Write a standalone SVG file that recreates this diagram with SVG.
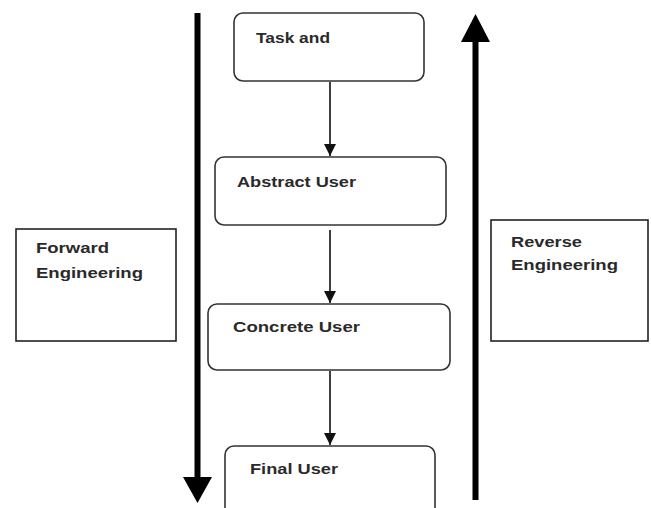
<svg xmlns="http://www.w3.org/2000/svg" width="651" height="508" viewBox="0 0 651 508">
<style>
.node{fill:#fff;stroke:#333;stroke-width:1.6}
.box{fill:#fff;stroke:#222;stroke-width:1.6}
.t{font-family:"Liberation Sans",Arial,sans-serif;font-size:15px;font-weight:bold;fill:#2a2a2a}
.con{stroke:#111;stroke-width:1.6;fill:none}
.big{stroke:#000;stroke-width:6;fill:none}
</style>
<defs>
<marker id="ah" markerUnits="userSpaceOnUse" markerWidth="14" markerHeight="14" refX="12" refY="6" orient="auto">
<path d="M0,0 L12,6 L0,12 Z" fill="#111"/>
</marker>
</defs>
<rect width="651" height="508" fill="#fff"/>
<g id="big-arrows">
<line class="big" x1="197.5" y1="13" x2="197.5" y2="480"/>
<path d="M183,477 L212,477 L197.5,503 Z" fill="#000"/>
<line class="big" x1="475.5" y1="500" x2="475.5" y2="38"/>
<path d="M461,42 L490,42 L475.5,14 Z" fill="#000"/>
</g>
<g id="connectors">
<line class="con" x1="330" y1="82" x2="330" y2="156" marker-end="url(#ah)"/>
<line class="con" x1="330" y1="230" x2="330" y2="303" marker-end="url(#ah)"/>
<line class="con" x1="330" y1="371" x2="330" y2="445" marker-end="url(#ah)"/>
</g>
<g id="task">
<rect class="node" x="234" y="13" width="190" height="68" rx="9"/>
<text class="t" x="256" y="43" textLength="74" lengthAdjust="spacingAndGlyphs">Task and</text>
</g>
<g id="abstract">
<rect class="node" x="215" y="157" width="231" height="68" rx="9"/>
<text class="t" x="237" y="187" textLength="119" lengthAdjust="spacingAndGlyphs">Abstract User</text>
</g>
<g id="concrete">
<rect class="node" x="208" y="304" width="242" height="66" rx="9"/>
<text class="t" x="233" y="332" textLength="127" lengthAdjust="spacingAndGlyphs">Concrete User</text>
</g>
<g id="final">
<rect class="node" x="225" y="446" width="210" height="80" rx="9"/>
<text class="t" x="250" y="474" textLength="88" lengthAdjust="spacingAndGlyphs">Final User</text>
</g>
<g id="forward">
<rect class="box" x="16" y="229" width="160" height="112"/>
<text class="t" x="36" y="253" textLength="73" lengthAdjust="spacingAndGlyphs">Forward</text>
<text class="t" x="36" y="278" textLength="107" lengthAdjust="spacingAndGlyphs">Engineering</text>
</g>
<g id="reverse">
<rect class="box" x="491" y="220" width="157" height="121"/>
<text class="t" x="511" y="247" textLength="71" lengthAdjust="spacingAndGlyphs">Reverse</text>
<text class="t" x="511" y="270" textLength="107" lengthAdjust="spacingAndGlyphs">Engineering</text>
</g>
</svg>
